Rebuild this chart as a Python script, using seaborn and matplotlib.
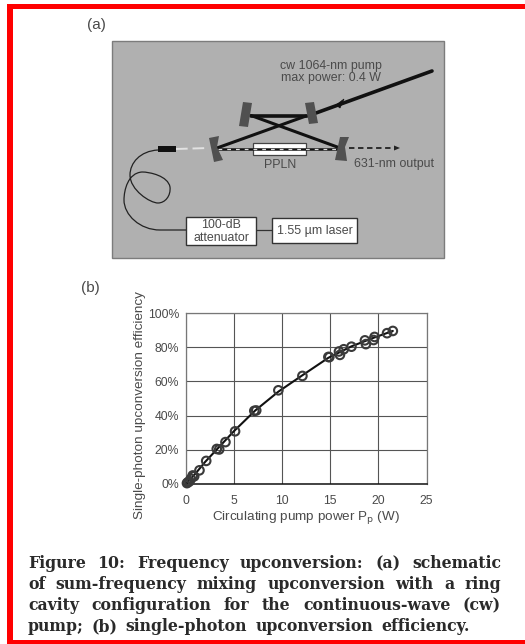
import matplotlib
matplotlib.use("Agg")
import matplotlib.pyplot as plt
from matplotlib.patches import Rectangle, Polygon, PathPatch
from matplotlib.path import Path
import seaborn as sns
import pandas as pd

# ---------- chart data ----------
power_w = [0.1, 0.2, 0.35, 0.5, 0.7, 0.85, 1.4, 2.1, 3.2, 3.45, 4.1, 5.1, 7.1, 7.3, 9.6, 12.1,
           14.8, 14.9, 15.9, 16.0, 16.4, 17.2, 18.6, 18.7, 19.5, 19.6, 20.9, 21.5]
efficiency = [0.5, 1, 1.5, 3, 5, 4.5, 8, 13.5, 20.5, 20.2, 24.5, 30.8, 42.8, 43, 54.8, 63.2,
              74.3, 74.2, 77.5, 75.5, 78.8, 80.3, 84, 81.8, 84.2, 86, 88.2, 89.5]
fit_power = [0, 1, 2, 3, 5, 7.2, 9.6, 12, 14.8, 17.2, 19.5, 21.5]
fit_eff = [0, 6.2, 13, 19, 31, 43, 54, 63.2, 73.8, 80.5, 85.5, 89.5]
x_ticks = [0, 5, 10, 15, 20, 25]
y_ticks = [0, 20, 40, 60, 80, 100]
y_tick_labels = ["0%", "20%", "40%", "60%", "80%", "100%"]
caption_lines = [
    "Figure 10: Frequency upconversion: (a) schematic",
    "of sum-frequency mixing upconversion with a ring",
    "cavity configuration for the continuous-wave (cw)",
    "pump; (b) single-photon upconversion efficiency.",
]
caption_base = [568, 589, 610, 631]
TXT = "#4a4a4a"
W, H = 525, 644

sns.set_theme(style="white", rc={"font.family": ["Liberation Sans", "DejaVu Sans"]})
fig = plt.figure(figsize=(W / 100, H / 100), dpi=100, facecolor="white")

# overlay in pixel coordinates for the page and schematic
page = fig.add_axes([0, 0, 1, 1], zorder=0)
page.set_xlim(0, W); page.set_ylim(H, 0); page.axis("off")

# red frame
for rect in [(7, 4, 6, 640), (7, 4, W - 7, 5), (7, 640, W - 7, 4)]:
    page.add_patch(Rectangle(rect[:2], rect[2], rect[3], color="#ff0000", lw=0))

# ---------- schematic (a) ----------
page.text(87, 25, "(a)", fontsize=11, color=TXT, ha="left", va="center")
page.add_patch(Rectangle((112, 41), 332, 217, fc="#b0b0b0", ec="#7c7c7c", lw=1))
DK = "#111111"
MIR = "#505050"
# mirrors
for poly in [[(243, 102), (252, 103), (248, 127), (239, 126)],
             [(305, 103), (314, 102), (318, 123), (309, 124)],
             [(209, 138), (219, 136), (217, 147), (223, 160), (214, 162)],
             [(340, 137), (349, 137), (345, 147), (347, 161), (335, 160)]]:
    page.add_patch(Polygon(poly, fc=MIR, ec="none", zorder=3))
# cavity beams
page.plot([251, 307], [115.5, 115.5], color=DK, lw=2.6, zorder=2)
page.plot([251, 340], [115.5, 148], color=DK, lw=2.2, zorder=2)
page.plot([217, 306], [148, 116], color=DK, lw=2.2, zorder=2)
page.plot([316, 432], [113, 71], color=DK, lw=2.6, zorder=2)
page.add_patch(Polygon([(336, 105), (344, 99), (340, 108)], fc=DK, ec=DK, lw=.5, zorder=4))
# PPLN crystal
page.add_patch(Rectangle((253, 143), 53, 12, fc="white", ec="#444444", lw=0.9, zorder=2.5))
# beam line through the crystal
page.plot([218, 340], [149, 149], color=DK, lw=1.8, zorder=2.7)
page.plot([218, 340], [149, 149], color="#dddddd", lw=0.9, ls=(0, (3, 4)), zorder=2.8)
page.plot([176, 209], [149, 148], color="#e2e2e2", lw=1.4, ls=(0, (6, 2.5)), zorder=2)
page.plot([349, 394], [148, 148], color="#222222", lw=1.3, ls=(0, (3, 2)), zorder=2)
page.add_patch(Polygon([(394, 145.5), (400, 148), (394, 150.5)], fc="#222222", ec="none"))
# fibre collimator
page.add_patch(Rectangle((158, 146), 18, 6, fc="#111111", ec="none", zorder=3))
# fibre loop
verts = [(158, 150), (140, 151), (130, 163), (130, 175),
         (130, 190), (150, 203), (158, 203),
         (165, 203), (171, 196), (170, 187),
         (168, 176), (150, 172), (142, 172),
         (128, 173), (124, 190), (124, 200),
         (124, 215), (140, 230), (160, 230),
         (186, 230)]
codes = [Path.MOVETO] + [Path.CURVE4] * 18 + [Path.LINETO]
page.add_patch(PathPatch(Path(verts, codes), fc="none", ec="#222222", lw=0.9, zorder=2))
# boxes
page.add_patch(Rectangle((186, 217), 70, 28, fc="white", ec="#333333", lw=1, zorder=3))
page.add_patch(Rectangle((272, 218), 85, 25, fc="white", ec="#333333", lw=1, zorder=3))
page.plot([256, 272], [230, 230], color="#333333", lw=0.9, zorder=2)
# schematic labels
sch = dict(fontsize=8.9, color=TXT, ha="center", va="center", zorder=5)
page.text(331, 66, "cw 1064-nm pump", **sch)
page.text(331, 78, "max power: 0.4 W", **sch)
page.text(280, 165, "PPLN", **sch)
page.text(394, 164, "631-nm output", **sch)
page.text(221, 225, "100-dB", **sch)
page.text(221, 238, "attenuator", **sch)
page.text(315, 231, "1.55 \u00b5m laser", **sch)
page.text(81, 288, "(b)", fontsize=11, color=TXT, ha="left", va="center")

# ---------- chart (b) ----------
L, R, T, B = 186, 426.5, 313, 484
ax = fig.add_axes([L / W, 1 - B / H, (R - L) / W, (B - T) / H], zorder=2)
ax.patch.set_alpha(0)
df_fit = pd.DataFrame({"power": fit_power, "eff": fit_eff})
df_pts = pd.DataFrame({"power": power_w, "eff": efficiency})
sns.lineplot(data=df_fit, x="power", y="eff", ax=ax, color="#111111", lw=1.5, zorder=3)
sns.scatterplot(data=df_pts, x="power", y="eff", ax=ax, s=38, facecolor="none",
                edgecolor="#3a3a3a", linewidth=1.5, zorder=4, clip_on=False)
ax.set_xlim(0, 25); ax.set_ylim(0, 100)
ax.set_xticks(x_ticks); ax.set_yticks(y_ticks); ax.set_yticklabels(y_tick_labels)
ax.grid(True, color="#555555", lw=0.8)
ax.set_axisbelow(True)
for s in ["top", "right", "left"]:
    ax.spines[s].set_color("#777777"); ax.spines[s].set_linewidth(0.9)
ax.spines["bottom"].set_color("#111111"); ax.spines["bottom"].set_linewidth(1.1)
ax.tick_params(axis="both", labelsize=8.8, labelcolor=TXT, length=0)
ax.tick_params(axis="x", pad=8)
ax.tick_params(axis="y", pad=5)
ax.set_xlabel("Circulating pump power P$_\\mathrm{p}$ (W)", fontsize=9.7, color=TXT, labelpad=1)
ax.set_ylabel("Single-photon upconversion efficiency", fontsize=9.7, color=TXT)
ax.yaxis.set_label_coords((146 - L) / (R - L), (484 - 405) / (B - T))

# ---------- caption, justified word by word ----------
CAP_L, CAP_R = 28, 501
fig.canvas.draw()
rend = fig.canvas.get_renderer()
for line, base in zip(caption_lines, caption_base):
    words = line.split(" ")
    arts = [page.text(0, base, w, fontsize=11.3, family="DejaVu Serif", weight="bold",
                      color="#2a2a2a", ha="left", va="baseline") for w in words]
    widths = [a.get_window_extent(rend).width for a in arts]
    gap = (CAP_R - CAP_L - sum(widths)) / (len(words) - 1)
    if line.endswith("efficiency."):
        gap = min(gap, 8.0)
    x = CAP_L
    for a, w_ in zip(arts, widths):
        a.set_x(x)
        x += w_ + gap

fig.savefig("out.png", dpi=100, facecolor="white")
